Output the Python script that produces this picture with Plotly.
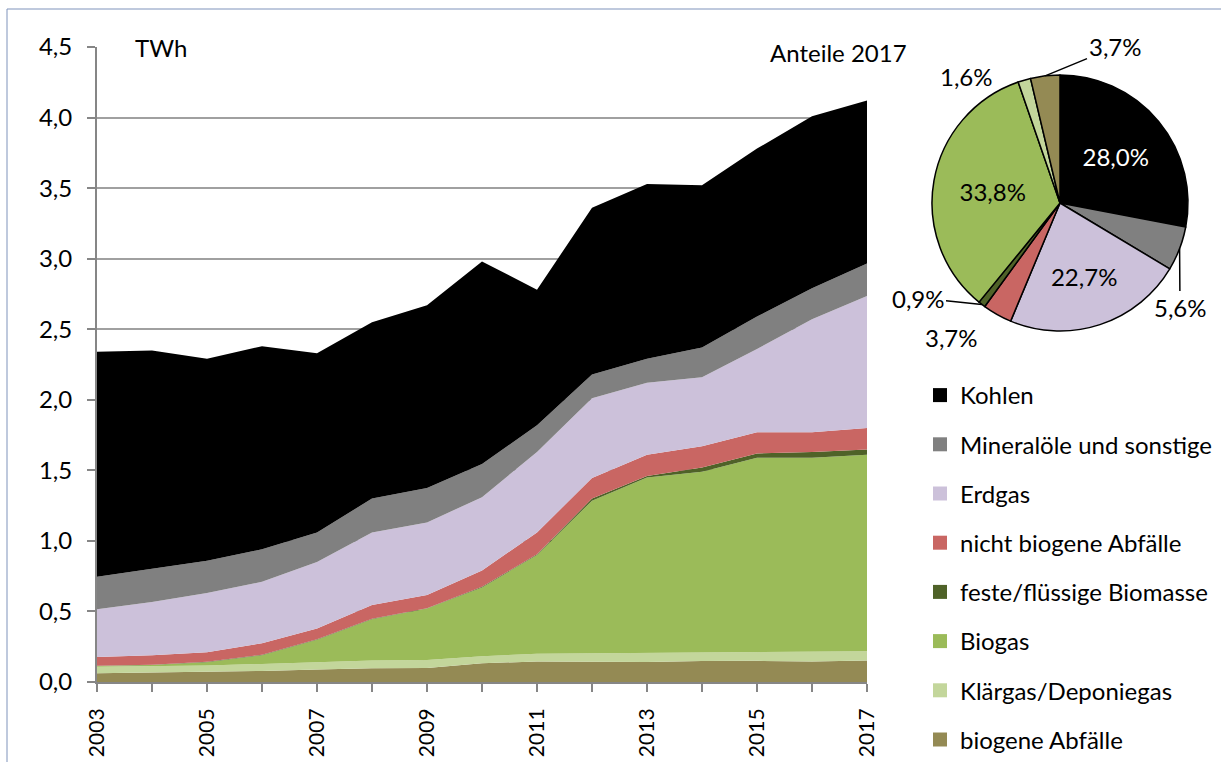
import math
import plotly.graph_objects as go

# --- data (TWh) ---
years = list(range(2003, 2018))
kohlen = [1.595, 1.550, 1.430, 1.440, 1.270, 1.250, 1.295, 1.435, 0.960, 1.180, 1.240, 1.150, 1.190, 1.220, 1.154]
mineraloele = [0.230, 0.233, 0.230, 0.230, 0.210, 0.240, 0.245, 0.235, 0.190, 0.170, 0.170, 0.210, 0.230, 0.220, 0.231]
erdgas = [0.338, 0.377, 0.420, 0.435, 0.470, 0.515, 0.513, 0.520, 0.570, 0.565, 0.510, 0.490, 0.590, 0.800, 0.935]
nicht_biogen = [0.061, 0.067, 0.067, 0.082, 0.077, 0.097, 0.094, 0.115, 0.155, 0.145, 0.150, 0.150, 0.150, 0.140, 0.152]
feste_biomasse = [0.003, 0.003, 0.003, 0.003, 0.003, 0.003, 0.003, 0.005, 0.005, 0.015, 0.010, 0.030, 0.030, 0.040, 0.037]
biogas = [0.005, 0.008, 0.023, 0.062, 0.160, 0.293, 0.364, 0.487, 0.700, 1.082, 1.244, 1.280, 1.377, 1.378, 1.393]
klaergas = [0.046, 0.046, 0.045, 0.050, 0.052, 0.054, 0.056, 0.050, 0.055, 0.058, 0.064, 0.062, 0.063, 0.067, 0.066]
biogene_abfaelle = [0.062, 0.066, 0.072, 0.078, 0.088, 0.098, 0.100, 0.133, 0.145, 0.145, 0.142, 0.148, 0.150, 0.145, 0.152]

names = ["Kohlen", "Mineralöle und sonstige", "Erdgas", "nicht biogene Abfälle",
         "feste/flüssige Biomasse", "Biogas", "Klärgas/Deponiegas", "biogene Abfälle"]
colors = ["#000000", "#808080", "#ccc1da", "#c96663", "#4f6228", "#9bbb59", "#c3d69b", "#948a54"]
series = [kohlen, mineraloele, erdgas, nicht_biogen, feste_biomasse, biogas, klaergas, biogene_abfaelle]

# shares 2017 in percent (pie), same order as names
anteile_2017 = [28.0, 5.6, 22.7, 3.7, 0.9, 33.8, 1.6, 3.7]

FONT = "Lato, 'Open Sans', sans-serif"
FS = 24
W, H = 1221, 762
ML, MR, MT, MB = 97, 10, 47, 10
PW, PH = W - ML - MR, H - MT - MB
AX_BOTTOM = 682  # pixel row of the x axis


def paper(xp, yp):
    return (xp - ML) / PW, (H - MB - yp) / PH


fig = go.Figure()

# stacked areas, bottom layer first
for name, vals, col in reversed(list(zip(names, series, colors))):
    fig.add_trace(go.Scatter(
        x=years, y=vals, name=name, stackgroup="one", mode="lines",
        line=dict(width=0, color=col), fillcolor=col, showlegend=False,
        hovertemplate="%{x}: %{y:.2f} TWh<extra>" + name + "</extra>",
    ))

# legend entries with square symbols
for name, col in zip(names, colors):
    fig.add_trace(go.Scatter(
        x=[None], y=[None], mode="markers", name=name, legendgroup=name,
        marker=dict(symbol="square", size=14, color=col),
    ))

# pie of 2017 shares
pie_cx, pie_cy, pie_r = 1060, 203, 128
x0, y1 = paper(pie_cx - pie_r, pie_cy - pie_r)
x1, y0 = paper(pie_cx + pie_r, pie_cy + pie_r)
pie_text = [f"{v:.1f}".replace(".", ",") + "%" for v in anteile_2017]
inside = {"Kohlen", "Erdgas", "Biogas"}
fig.add_trace(go.Pie(
    labels=names, values=anteile_2017, sort=False, direction="clockwise", rotation=0,
    domain=dict(x=[x0, x1], y=[y0, y1]),
    marker=dict(colors=colors, line=dict(color="#000000", width=1.5)),
    text=pie_text, textinfo="text",
    textposition=["inside" if n in inside else "none" for n in names],
    insidetextorientation="horizontal",
    insidetextfont=dict(family=FONT, size=FS,
                        color=["#ffffff" if n == "Kohlen" else "#000000" for n in names]),
    showlegend=False, hoverinfo="label+percent",
))

# outside pie labels, tips placed at slice mid-angles
total = sum(anteile_2017)
cum = 0
mid_tip = {}
for n, v in zip(names, anteile_2017):
    ang = (cum + v / 2) / total * 2 * math.pi
    mid_tip[n] = (pie_cx + pie_r * math.sin(ang), pie_cy - pie_r * math.cos(ang))
    cum += v

annotations = []
outside = {
    "biogene Abfälle": (1115, 47, True),
    "Klärgas/Deponiegas": (995, 60, False),
    "feste/flüssige Biomasse": (918, 298, True),
    "nicht biogene Abfälle": (980, 337, False),
    "Mineralöle und sonstige": (1180, 307, True),
}
for n, (tx, ty, arrow) in outside.items():
    txt = pie_text[names.index(n)]
    if arrow:
        tipx, tipy = mid_tip[n]
        px_, py_ = paper(tipx, tipy)
        annotations.append(dict(
            xref="paper", yref="paper", x=px_, y=py_, text=txt, showarrow=True,
            arrowhead=0, arrowwidth=1.5, arrowcolor="#000000",
            axref="pixel", ayref="pixel", ax=tx - tipx, ay=ty - tipy,
            font=dict(family=FONT, size=FS, color="#000000"),
        ))
    else:
        px_, py_ = paper(tx, ty)
        annotations.append(dict(
            xref="paper", yref="paper", x=px_, y=py_, text=txt, showarrow=False,
            font=dict(family=FONT, size=FS, color="#000000"),
        ))

# chart titles on the top gridline
annotations.append(dict(xref="x domain", yref="y", x=(133 - ML) / 770, y=4.5, xanchor="left",
                        yanchor="middle", text="TWh", showarrow=False,
                        font=dict(family=FONT, size=FS, color="#000000")))
annotations.append(dict(xref="x domain", yref="y", x=(768 - ML) / 770, y=4.46, xanchor="left",
                        yanchor="middle", text="Anteile 2017", showarrow=False,
                        font=dict(family=FONT, size=FS, color="#000000")))

shapes = [
    # white gaps in the top gridline behind the two titles
    dict(type="rect", xref="x domain", yref="y", x0=(113 - ML) / 770, x1=(220 - ML) / 770,
         y0=4.475, y1=4.525, fillcolor="#ffffff", line=dict(width=0), layer="above"),
    dict(type="rect", xref="x domain", yref="y", x0=(745 - ML) / 770, x1=1.0,
         y0=4.475, y1=4.525, fillcolor="#ffffff", line=dict(width=0), layer="above"),
    # thin outer frame
    dict(type="rect", xref="paper", yref="paper", x0=(7 - ML) / PW, x1=1.2,
         y0=-0.3, y1=(H - MB - 9) / PH, line=dict(color="#7f93bb", width=1),
         fillcolor="rgba(0,0,0,0)", layer="below"),
]

fig.update_layout(
    width=W, height=H, margin=dict(l=ML, r=MR, t=MT, b=MB, autoexpand=False),
    paper_bgcolor="#ffffff", plot_bgcolor="#ffffff",
    separators=",.",
    font=dict(family=FONT, size=FS, color="#000000"),
    xaxis=dict(domain=[0, 770 / PW], range=[2003, 2017], tick0=2003, dtick=2,
               tickangle=-90, ticks="outside", ticklen=8, tickwidth=1.5, tickcolor="#868686",
               minor=dict(dtick=1, tick0=2003, ticks="outside", ticklen=8, tickwidth=1.5,
                          tickcolor="#868686", showgrid=False),
               showline=True, linecolor="#868686", linewidth=2, showgrid=False, zeroline=False,
               automargin=False, ticklabelstandoff=8, tickfont=dict(family=FONT, size=21)),
    yaxis=dict(domain=[(H - MB - AX_BOTTOM) / PH, 1], range=[0, 4.5], dtick=0.5,
               tickformat=".1f", ticks="outside", ticklen=8,
               tickwidth=1.5, tickcolor="#868686", showline=True, linecolor="#868686", linewidth=2,
               showgrid=True, gridcolor="#a0a0a0", gridwidth=1.5, zeroline=False,
               automargin=False, ticklabelstandoff=10, tickfont=dict(family=FONT, size=FS)),
    legend=dict(x=(920 - ML) / PW, y=(H - MB - 373) / PH, xanchor="left", yanchor="top",
                font=dict(family=FONT, size=FS), tracegroupgap=15, itemwidth=30,
                bgcolor="rgba(0,0,0,0)"),
    annotations=annotations,
    shapes=shapes,
)

# page body has a default 8px margin; drop it so the figure sits at the window origin
fig.write_html("out.html", config={"displayModeBar": False},
               post_script="document.body.style.margin='0';")
